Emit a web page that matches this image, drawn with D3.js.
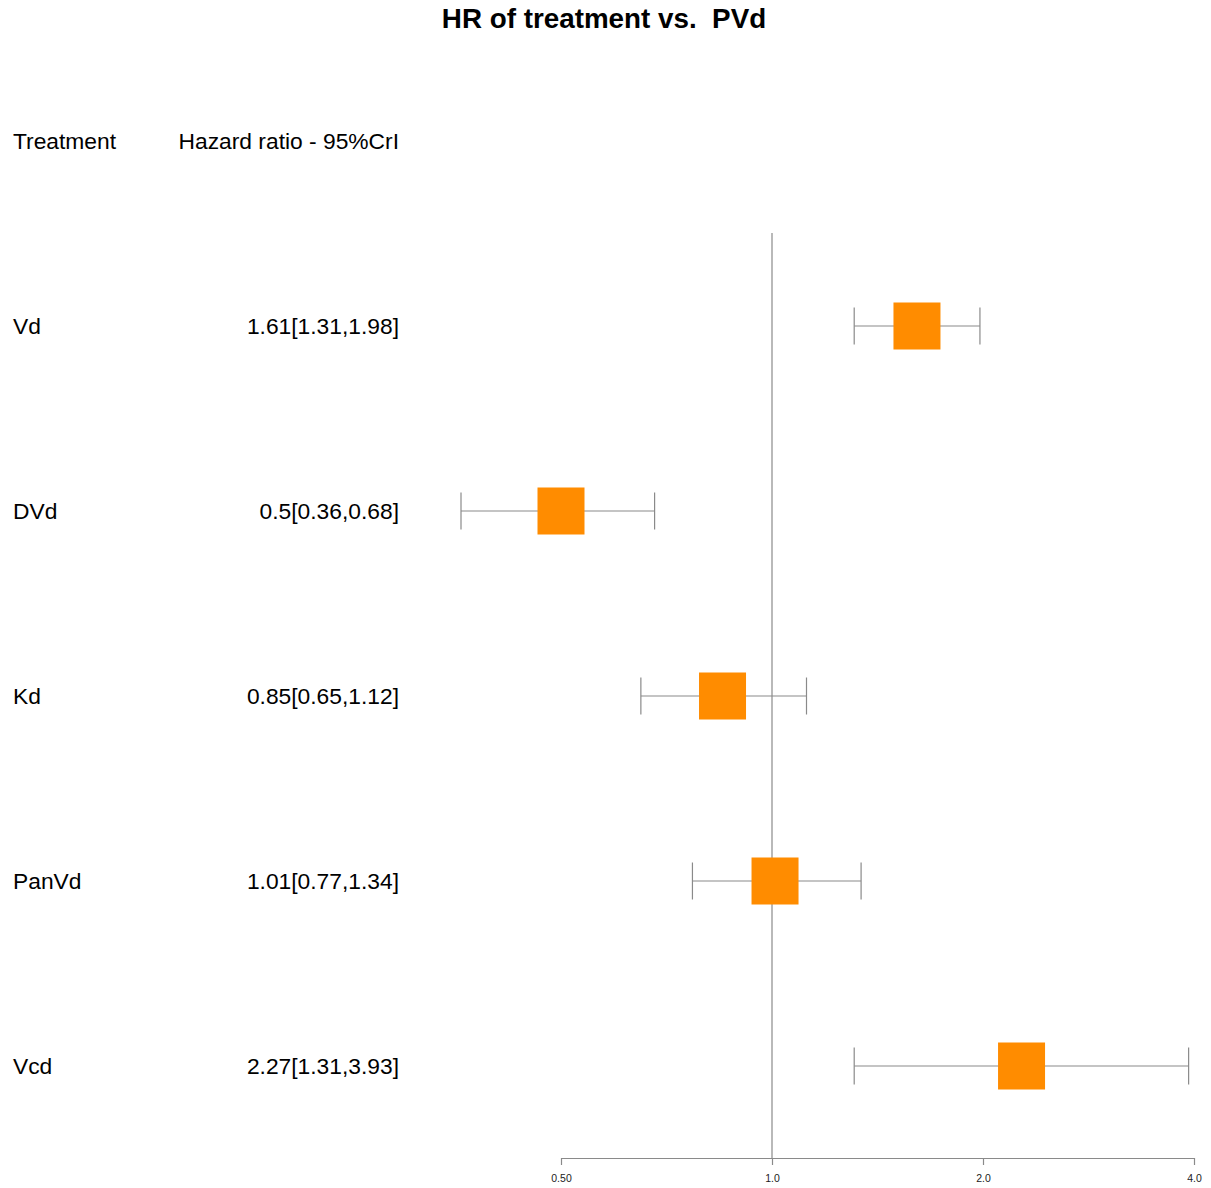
<!DOCTYPE html>
<html>
<head>
<meta charset="utf-8">
<script src="https://cdn.jsdelivr.net/npm/d3@7"></script>
<style>
  html, body { margin: 0; padding: 0; background: #fff; }
  svg { display: block; font-family: "Liberation Sans", Arial, sans-serif; }
</style>
</head>
<body>
<svg id="chart" width="1211" height="1188"></svg>
<script>
// Hazard ratios with 95% credible intervals, each treatment vs. PVd
const treatments = ["Vd", "DVd", "Kd", "PanVd", "Vcd"];
const hr    = [1.61, 0.5, 0.85, 1.01, 2.27];
const lower = [1.31, 0.36, 0.65, 0.77, 1.31];
const upper = [1.98, 0.68, 1.12, 1.34, 3.93];
const hrLabels = ["1.61[1.31,1.98]", "0.5[0.36,0.68]", "0.85[0.65,1.12]", "1.01[0.77,1.34]", "2.27[1.31,3.93]"];
const tickValues = [0.5, 1, 2, 4];
const tickLabels = ["0.50", "1.0", "2.0", "4.0"];

const svg = d3.select("#chart");

const x = d3.scaleLog().base(2).domain([0.5, 4]).range([561, 1194]);
const y = d3.scalePoint().domain(treatments).range([326, 1066]);

const lineColor = "#8a8a8a";
const boxSize = 47;
const capHalf = 18.5;
const labelSize = 22.8;

// Title
svg.append("text")
  .attr("x", 604).attr("y", 28)
  .attr("text-anchor", "middle")
  .attr("font-size", 27.8).attr("font-weight", "bold")
  .attr("fill", "#000")
  .attr("xml:space", "preserve")
  .text("HR of treatment vs.  PVd");

// Column headers
svg.append("text").attr("x", 13).attr("y", 149)
  .attr("font-size", labelSize).attr("fill", "#000").text("Treatment");
svg.append("text").attr("x", 399).attr("y", 149)
  .attr("text-anchor", "end")
  .attr("font-size", labelSize).attr("fill", "#000").text("Hazard ratio - 95%CrI");

// Reference line at HR = 1
svg.append("line")
  .attr("x1", x(1)).attr("x2", x(1))
  .attr("y1", 233).attr("y2", 1158)
  .attr("stroke", lineColor).attr("stroke-width", 1.2);

// Bottom axis
const axis = d3.axisBottom(x)
  .tickValues(tickValues)
  .tickFormat((d, i) => tickLabels[i])
  .tickSize(7)
  .tickSizeOuter(0);
const gAxis = svg.append("g")
  .attr("transform", "translate(0,1158)")
  .call(axis);
gAxis.select(".domain").attr("stroke", lineColor).attr("stroke-width", 1.2);
gAxis.selectAll(".tick line").attr("stroke", lineColor).attr("stroke-width", 1.2);
gAxis.selectAll(".tick text")
  .attr("font-family", "Liberation Sans, Arial, sans-serif")
  .attr("font-size", 10.5).attr("fill", "#222").attr("dy", "1.3em");

// Rows
const rows = svg.append("g").selectAll("g")
  .data(treatments.map((t, i) => ({ t, hr: hr[i], lo: lower[i], hi: upper[i], label: hrLabels[i] })))
  .join("g");

rows.append("text")
  .attr("x", 13).attr("y", d => y(d.t) + 8)
  .attr("font-size", labelSize).attr("fill", "#000")
  .text(d => d.t);

rows.append("text")
  .attr("x", 399).attr("y", d => y(d.t) + 8)
  .attr("text-anchor", "end")
  .attr("font-size", labelSize).attr("fill", "#000")
  .text(d => d.label);

// Interval lines and caps
rows.append("line")
  .attr("x1", d => x(d.lo)).attr("x2", d => x(d.hi))
  .attr("y1", d => y(d.t)).attr("y2", d => y(d.t))
  .attr("stroke", lineColor).attr("stroke-width", 1.2);
rows.append("line")
  .attr("x1", d => x(d.lo)).attr("x2", d => x(d.lo))
  .attr("y1", d => y(d.t) - capHalf).attr("y2", d => y(d.t) + capHalf)
  .attr("stroke", lineColor).attr("stroke-width", 1.2);
rows.append("line")
  .attr("x1", d => x(d.hi)).attr("x2", d => x(d.hi))
  .attr("y1", d => y(d.t) - capHalf).attr("y2", d => y(d.t) + capHalf)
  .attr("stroke", lineColor).attr("stroke-width", 1.2);

// Point estimate boxes
rows.append("rect")
  .attr("x", d => x(d.hr) - boxSize / 2)
  .attr("y", d => y(d.t) - boxSize / 2)
  .attr("width", boxSize).attr("height", boxSize)
  .attr("fill", "#ff8c00");
</script>
</body>
</html>
